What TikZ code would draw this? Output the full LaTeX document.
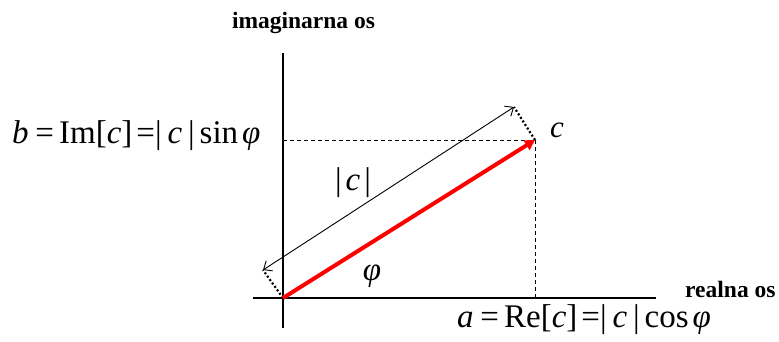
\documentclass[tikz,border=0pt]{standalone}
\usepackage{fontspec}
\setmainfont{Liberation Serif}
\usetikzlibrary{arrows.meta}
\newcommand{\vi}[1]{\textit{#1}}
\newcommand{\gp}[1]{\hspace{#1em}}
\begin{document}
\begin{tikzpicture}[x=1pt,y=-1pt,
  axis/.style={line width=2pt},
  help/.style={line width=0.9pt, dash pattern=on 4pt off 3pt},
  dotline/.style={line width=2.2pt, dash pattern=on 2pt off 2.2pt},
  vec/.style={line width=4pt, red, -{Triangle[length=10pt,width=11pt]}},
  dim/.style={line width=0.9pt, {Straight Barb[length=7pt,width=12pt]}-{Straight Barb[length=7pt,width=12pt]}},
  formula/.style={font=\fontsize{33}{35}\selectfont, inner sep=0pt},
  axlabel/.style={font=\fontsize{23.5}{25}\selectfont\bfseries, inner sep=0pt}]
\useasboundingbox (0,0) rectangle (779,342);
\coordinate (O) at (283,298);
\coordinate (C) at (535,140);
\coordinate (Yt) at (283,53);
\coordinate (Yb) at (283,328);
\coordinate (Xl) at (253,298);
\coordinate (Xr) at (656,298);
\coordinate (Yc) at (283,140);
\coordinate (Xc) at (535,298);
\coordinate (L) at (263,270);
\coordinate (U) at (514,107);
% axes
\draw[axis] (Yb) -- (Yt);
\draw[axis] (Xl) -- (Xr);
% projections
\draw[help] (Yc) -- (C);
\draw[help] (C) -- (Xc);
% dotted perpendiculars
\draw[dotline] (O) -- (L);
\draw[dotline] (C) -- (U);
% modulus dimension
\draw[dim] (L) -- (U);
% vector
\draw[vec] (O) -- (C);
% labels
\node[axlabel, anchor=base] (imlab) at (303.5,29) {imaginarna os};
\node[axlabel, anchor=base west] (relab) at (685,297) {realna os};
\node[formula, anchor=base west] (blab) at (12,143) {\vi{b}\gp{0.2}=\gp{0.16}Im[\vi{c}]\gp{0.12}=|\gp{0.18}\vi{c}\gp{0.18}|\gp{0.15}sin\gp{0.12}\vi{φ}};
\node[formula, anchor=base west] (alab) at (457,327) {\vi{a}\gp{0.2}=\gp{0.16}Re[\vi{c}]\gp{0.12}=|\gp{0.18}\vi{c}\gp{0.18}|\gp{0.15}cos\gp{0.12}\vi{φ}};
\node[formula, anchor=base] (modlab) at (353,190) {|\gp{0.12}\vi{c}\gp{0.12}|};
\node[formula, anchor=base] (philab) at (372,280) {\vi{φ}};
\node[formula, font=\fontsize{31}{33}\selectfont, anchor=base west] (clab) at (550,138) {\vi{c}};
\end{tikzpicture}
\end{document}
